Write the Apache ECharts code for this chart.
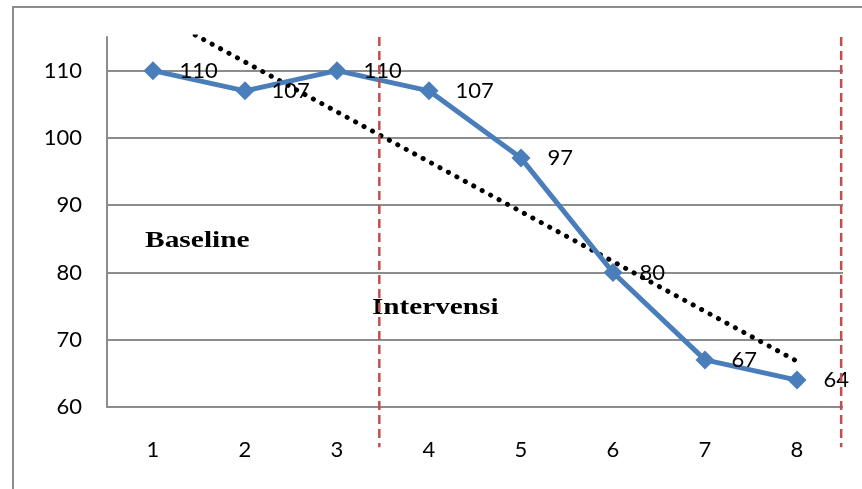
<!DOCTYPE html>
<html><head><meta charset="utf-8">
<script src="https://cdn.jsdelivr.net/npm/echarts@6/dist/echarts.min.js"></script>
<style>html,body{margin:0;padding:0;background:#fff}#c{width:862px;height:489px}</style>
</head><body><div id="c"></div>
<script>
const categories = ['1','2','3','4','5','6','7','8'];
const values = [110, 107, 110, 107, 97, 80, 67, 64];
const yTicks = [60, 70, 80, 90, 100, 110];
// linear trend line endpoints (session 1 and 8)
const trendX = [1, 8];
const trendY = [118.7, 66.8];
// phase divider positions (in session units)
const dividerX = [3.46, 8.48];
const dividerY = [115, 54];

const chart = echarts.init(document.getElementById('c'));
const font = 'Lato, "Open Sans", sans-serif';
const series = [
  {
    type: 'line', xAxisIndex: 0, yAxisIndex: 0, data: values,
    symbol: 'diamond', symbolSize: 19,
    lineStyle: {color: '#4A7EBB', width: 5},
    itemStyle: {color: '#4A7EBB'},
    label: {show: true, position: 'right', distance: 17, color: '#000', fontSize: 22, fontFamily: font},
    z: 3
  },
  {
    type: 'line', xAxisIndex: 1, yAxisIndex: 0,
    data: trendX.map((x, i) => [x, trendY[i]]),
    symbol: 'none', clip: true,
    lineStyle: {color: '#000', width: 5, type: [0.1, 9.5], cap: 'round'},
    z: 2
  }
];
dividerX.forEach(x => {
  series.push({
    type: 'line', xAxisIndex: 1, yAxisIndex: 0, clip: false,
    data: dividerY.map(y => [x, y]), symbol: 'none',
    lineStyle: {color: '#C0504D', width: 2.5, type: [9, 5]}, z: 4
  });
});

chart.setOption({
  animation: false,
  grid: {left: 107, right: 19, top: 37, bottom: 82},
  xAxis: [
    {type: 'category', data: categories, boundaryGap: true,
     axisLine: {show: false}, axisTick: {show: false}, splitLine: {show: false},
     axisLabel: {color: '#000', fontSize: 22, fontFamily: font, margin: 32}},
    {type: 'value', min: 0.5, max: 8.5, show: false, splitLine: {show: false}}
  ],
  yAxis: {type: 'value', min: 60, max: 115, interval: 10,
    axisLine: {show: true, lineStyle: {color: '#8c8c8c', width: 2}},
    axisTick: {show: false},
    splitLine: {showMaxLine: false, lineStyle: {color: '#8c8c8c', width: 2}},
    axisLabel: {color: '#000', fontSize: 22, fontFamily: font, margin: 25, showMaxLabel: false,
      formatter: v => yTicks.includes(v) ? String(v) : ''}},
  graphic: [
    {type: 'rect', shape: {x: 13, y: 7, width: 900, height: 600}, style: {fill: 'none', stroke: '#8c8c8c', lineWidth: 2}, silent: true},
    {type: 'text', x: 145, y: 241, scaleX: 1.28, style: {text: 'Baseline', font: 'bold 23px "Liberation Serif", serif', fill: '#000', textVerticalAlign: 'middle'}},
    {type: 'text', x: 372, y: 308, scaleX: 1.27, style: {text: 'Intervensi', font: 'bold 23px "Liberation Serif", serif', fill: '#000', textVerticalAlign: 'middle'}}
  ],
  series
});
</script></body></html>
